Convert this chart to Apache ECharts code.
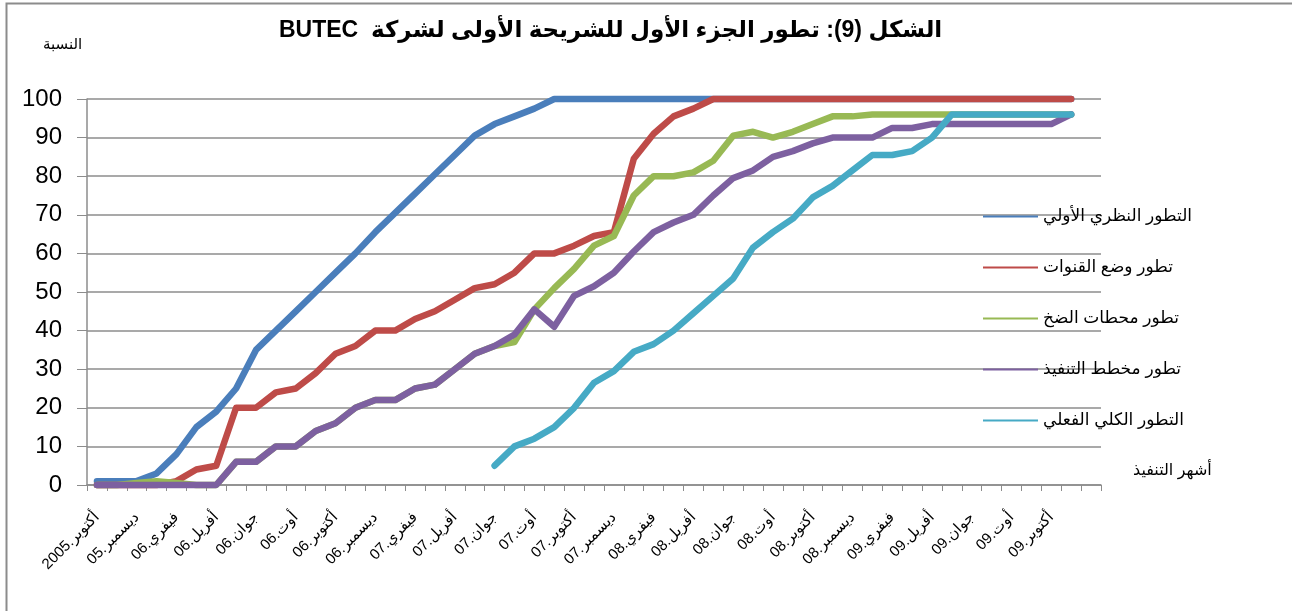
<!DOCTYPE html>
<html>
<head>
<meta charset="utf-8">
<script src="https://cdn.jsdelivr.net/npm/echarts@6.0.0/dist/echarts.min.js"></script>
<style>
  html, body { margin: 0; padding: 0; background: #fff; }
  #chart { width: 1292px; height: 611px; }
</style>
</head>
<body>
<div id="chart" dir="rtl"></div>
<script>
// last category is left blank, as in the source sheet
const months = [
    'أكتوبر.2005', 'نوفمبر.05', 'ديسمبر.05',
    'جانفي.06', 'فيفري.06', 'مارس.06', 'أفريل.06', 'ماي.06', 'جوان.06', 'جويلية.06', 'أوت.06', 'سبتمبر.06', 'أكتوبر.06', 'نوفمبر.06', 'ديسمبر.06',
    'جانفي.07', 'فيفري.07', 'مارس.07', 'أفريل.07', 'ماي.07', 'جوان.07', 'جويلية.07', 'أوت.07', 'سبتمبر.07', 'أكتوبر.07', 'نوفمبر.07', 'ديسمبر.07',
    'جانفي.08', 'فيفري.08', 'مارس.08', 'أفريل.08', 'ماي.08', 'جوان.08', 'جويلية.08', 'أوت.08', 'سبتمبر.08', 'أكتوبر.08', 'نوفمبر.08', 'ديسمبر.08',
    'جانفي.09', 'فيفري.09', 'مارس.09', 'أفريل.09', 'ماي.09', 'جوان.09', 'جويلية.09', 'أوت.09', 'سبتمبر.09', 'أكتوبر.09', 'نوفمبر.09', ''
];
const seriesNames = [
    'التطور النظري الأولي',
    'تطور وضع القنوات',
    'تطور محطات الضخ',
    'تطور مخطط التنفيذ',
    'التطور الكلي الفعلي'
];
const seriesColors = ['#4A7EBB', '#BE4B48', '#98B954', '#7D60A0', '#46AAC5'];

const theoretical = [1, 1, 1, 3, 8, 15, 19, 25, 35, 40, 45, 50, 55, 60, 65.5, 70.5, 75.5, 80.5, 85.5, 90.5,
    93.5, 95.5, 97.5, 100, 100, 100, 100, 100, 100, 100, 100, 100, 100, 100, 100, 100, 100, 100, 100, 100,
    100, 100, 100, 100, 100, 100, 100, 100, 100, 100];
const channels = [0, 0, 0, 0, 1, 4, 5, 20, 20, 24, 25, 29, 34, 36, 40, 40, 43, 45, 48, 51,
    52, 55, 60, 60, 62, 64.5, 65.5, 84.5, 91, 95.5, 97.5, 100, 100, 100, 100, 100, 100, 100, 100, 100,
    100, 100, 100, 100, 100, 100, 100, 100, 100, 100];
const pumpStations = [0, 0, 0.5, 1, 0.5, 0, 0, 6, 6, 10, 10, 14, 16, 20, 22, 22, 25, 26, 30, 34,
    36, 37, 45.5, 51, 56, 62, 64.5, 75, 80, 80, 81, 84, 90.5, 91.5, 90, 91.5, 93.5, 95.5, 95.5, 96,
    96, 96, 96, 96, 96, 96, 96, 96, 96, 96];
const plan = [0, 0, 0, 0, 0, 0, 0, 6, 6, 10, 10, 14, 16, 20, 22, 22, 25, 26, 30, 34,
    36, 39, 45.5, 41, 49, 51.5, 55, 60.5, 65.5, 68, 70, 75, 79.5, 81.5, 85, 86.5, 88.5, 90, 90, 90,
    92.5, 92.5, 93.5, 93.5, 93.5, 93.5, 93.5, 93.5, 93.5, 96];
const actual = [null, null, null, null, null, null, null, null, null, null, null, null, null, null, null, null, null, null, null, null,
    5, 10, 12, 15, 20, 26.5, 29.5, 34.5, 36.5, 40, 44.5, 49, 53.5, 61.5, 65.5, 69, 74.5, 77.5, 81.5, 85.5,
    85.5, 86.5, 90, 96, 96, 96, 96, 96, 96, 96];

const seriesData = [theoretical, channels, pumpStations, plan, actual];
const font = 'Liberation Sans, Arial, DejaVu Sans, sans-serif';

const chart = echarts.init(document.getElementById('chart'), null, {renderer: 'canvas'});

const option = {
    backgroundColor: '#ffffff',
    animation: false,
    title: [{
        text: 'الشكل (9): تطور الجزء الأول للشريحة الأولى لشركة  BUTEC',
        left: 274,
        top: 14,
        textStyle: {fontFamily: font, fontSize: 23, fontWeight: 'bold', color: '#000'}
    }, {
        text: 'النسبة',
        left: 38,
        top: 32,
        textStyle: {fontFamily: font, fontSize: 15, fontWeight: 'normal', color: '#000'}
    }],
    legend: {
        orient: 'vertical',
        left: 978,
        top: 203,
        itemWidth: 55,
        itemHeight: 16,
        itemGap: 34,
        data: seriesNames.map((name, i) => ({
            name: name,
            icon: 'path://M0,7L53,7L53,9L0,9Z',
            itemStyle: {color: seriesColors[i]}
        })),
        textStyle: {fontFamily: font, fontSize: 17, color: '#000'}
    },
    grid: {
        left: 87,
        right: 191,
        top: 99,
        bottom: 126,
        containLabel: false,
        outerBoundsMode: 'none'
    },
    xAxis: {
        type: 'category',
        data: months,
        boundaryGap: true,
        name: 'أشهر التنفيذ',
        nameLocation: 'end',
        nameGap: 32,
        nameTextStyle: {fontFamily: font, fontSize: 16, color: '#000', verticalAlign: 'bottom', padding: [0, 0, 6, 0]},
        axisLine: {lineStyle: {color: '#8c8c8c', width: 1.5}},
        axisTick: {show: true, length: 6, interval: 0, lineStyle: {color: '#8c8c8c'}},
        axisLabel: {
            interval: 1,
            rotate: 45,
            margin: 30,
            fontFamily: font,
            fontSize: 15,
            color: '#000'
        },
        splitLine: {show: false}
    },
    yAxis: {
        type: 'value',
        min: 0,
        max: 100,
        interval: 10,
        axisLine: {show: true, lineStyle: {color: '#8c8c8c', width: 1.5}},
        axisTick: {show: true, length: 10, lineStyle: {color: '#8c8c8c'}},
        axisLabel: {margin: 25, fontFamily: font, fontSize: 24, color: '#000'},
        splitLine: {lineStyle: {color: '#8c8c8c', width: 1.5}}
    },
    graphic: [{
        type: 'rect',
        left: 4,
        top: 1,
        shape: {width: 1320, height: 640},
        style: {fill: 'none', stroke: '#8c8c8c', lineWidth: 2},
        silent: true
    }],
    series: seriesNames.map((name, i) => ({
        name: name,
        type: 'line',
        data: seriesData[i],
        symbol: 'none',
        showSymbol: false,
        clip: false,
        connectNulls: false,
        color: seriesColors[i],
        lineStyle: {width: 6.5, color: seriesColors[i], cap: 'round', join: 'round'}
    }))
};

chart.setOption(option);
</script>
</body>
</html>
